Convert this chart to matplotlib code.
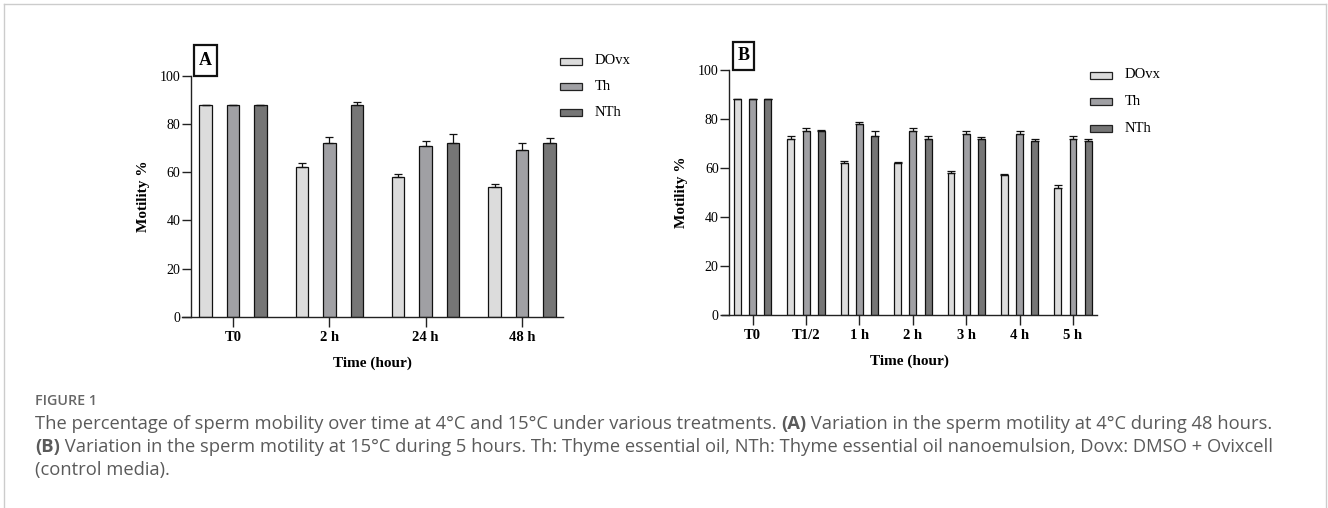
import matplotlib
matplotlib.use('Agg')
import matplotlib.pyplot as plt
from matplotlib.patches import Rectangle
from matplotlib.lines import Line2D
import numpy as np

### (1) Data ###
series = ['DOvx', 'Th', 'NTh']
colors = ['#dcdcdc', '#a0a0a4', '#767676']

times_a = ['T0', '2 h', '24 h', '48 h']
dovx_a = [88, 62, 58, 54]
th_a = [88, 72, 71, 69]
nth_a = [88, 88, 72, 72]
dovx_a_err = [0, 1.6, 1.2, 1.0]
th_a_err = [0, 2.7, 2.0, 3.0]
nth_a_err = [0, 1.0, 4.0, 2.0]

times_b = ['T0', 'T1/2', '1 h', '2 h', '3 h', '4 h', '5 h']
dovx_b = [88, 72, 62, 62, 58, 57, 52]
th_b = [88, 75, 78, 75, 74, 74, 72]
nth_b = [88, 75, 73, 72, 72, 71, 71]
dovx_b_err = [0, 1.0, 0.7, 0.5, 0.7, 0.7, 1.1]
th_b_err = [0, 1.3, 1.0, 1.5, 1.2, 1.2, 1.0]
nth_b_err = [0, 0.6, 2.0, 1.0, 0.6, 0.8, 0.9]

W, H = 1328, 508
serif = 'Liberation Serif'
plt.rcParams['font.family'] = serif

fig = plt.figure(figsize=(W/100, H/100), dpi=100)

def fx(px):
    return px / W

def fy(py):
    return 1 - py / H

def draw_panel(rect, times, vals, errs, xlo, xhi, yaxis_x, letter_box, leg_x, leg_rows):
    ax = fig.add_axes(rect)
    x = np.arange(len(times))
    off = 0.285
    w = 0.13
    for k in range(3):
        xs = x + (k - 1) * off
        ax.bar(xs, vals[k], width=w, color=colors[k], edgecolor='#111111', linewidth=0.9, zorder=2)
        e = np.array(errs[k])
        ax.errorbar(xs, vals[k], yerr=[np.zeros_like(e), e], fmt='none', ecolor='#111111',
                    elinewidth=0.9, capsize=3.2, capthick=0.9, zorder=3)
    ax.set_xlim(xlo, xhi)
    ax.set_ylim(0, 100)
    ax.set_xticks(x)
    ax.set_xticklabels(times, fontsize=10.5, fontweight='bold')
    ax.set_yticks(np.arange(0, 101, 20))
    ax.set_yticklabels([str(v) for v in range(0, 101, 20)], fontsize=10.5, fontweight='bold')
    ax.spines['top'].set_visible(False)
    ax.spines['right'].set_visible(False)
    ax.spines['left'].set_position(('data', yaxis_x))
    for s in ['left', 'bottom']:
        ax.spines[s].set_linewidth(1.0)
        ax.spines[s].set_color('#222222')
    ax.tick_params(axis='x', length=7, width=1.0, color='#222222', pad=3)
    ax.tick_params(axis='y', length=6.5, width=1.0, color='#222222', pad=1)
    ax.set_xlabel('Time (hour)', fontsize=11, fontweight='bold', labelpad=9)
    ax.set_ylabel('Motility %', fontsize=11, fontweight='bold', labelpad=7)
    # panel letter box
    bx0, by0, bx1, by1 = letter_box[1]
    fig.patches.append(Rectangle((fx(bx0), fy(by1)), fx(bx1) - fx(bx0), fy(by0) - fy(by1),
                                 transform=fig.transFigure, fill=False, edgecolor='#111111',
                                 linewidth=1.6))
    fig.text(fx((bx0 + bx1) / 2), fy((by0 + by1) / 2), letter_box[0], fontsize=13,
             fontweight='bold', ha='center', va='center')
    # legend
    for k, name in enumerate(series):
        yy = leg_rows[k]
        fig.patches.append(Rectangle((fx(leg_x), fy(yy + 3.5)), fx(22), 7 / H,
                                     transform=fig.transFigure, facecolor=colors[k],
                                     edgecolor='#222222', linewidth=0.9))
        fig.text(fx(leg_x + 35), fy(yy), name, fontsize=10.5, ha='left', va='center')
    return ax

rect_a = [fx(182), fy(316.7), fx(563) - fx(182), fy(75.7) - fy(316.7)]
draw_panel(rect_a, times_a, [dovx_a, th_a, nth_a], [dovx_a_err, th_a_err, nth_a_err],
           -0.529, 3.425, -0.436, ('A', (194, 45, 217, 76)), 560, [61, 86, 112])

rect_b = [fx(722), fy(315.3), fx(1097) - fx(722), fy(70) - fy(315.3)]
draw_panel(rect_b, times_b, [dovx_b, th_b, nth_b], [dovx_b_err, th_b_err, nth_b_err],
           -0.575, 6.45, -0.443, ('B', (733, 42, 754, 70)), 1090, [75, 101.5, 128])

# frame around figure
fc = '#cccccc'
fig.add_artist(Line2D([fx(4), fx(4)], [0, fy(4)], transform=fig.transFigure, color=fc, lw=1))
fig.add_artist(Line2D([fx(4), fx(1326)], [fy(4), fy(4)], transform=fig.transFigure, color=fc, lw=1))
fig.add_artist(Line2D([fx(1326), fx(1326)], [0, fy(4)], transform=fig.transFigure, color=fc, lw=1))

# caption
cap_font = 'Open Sans'
cap_color = '#5a5a5a'
fig.text(fx(35), fy(401), 'FIGURE 1', fontsize=10.3, fontweight='semibold', family=cap_font,
         color='#666666', va='center', ha='left')

fig.canvas.draw()
renderer = fig.canvas.get_renderer()

def draw_segments(x0, y0, segs):
    xpos = fx(x0)
    for txt, wt in segs:
        t = fig.text(xpos, fy(y0), txt, fontsize=13.2, fontweight=wt, family=cap_font,
                     color=cap_color, va='center', ha='left')
        bb = t.get_window_extent(renderer=renderer)
        xpos += bb.width / W

draw_segments(35, 424, [
    ('The percentage of sperm mobility over time at 4°C and 15°C under various treatments. ', 'normal'),
    ('(A)', 'bold'),
    (' Variation in the sperm motility at 4°C during 48 hours.', 'normal')])
draw_segments(35, 447, [
    ('(B)', 'bold'),
    (' Variation in the sperm motility at 15°C during 5 hours. Th: Thyme essential oil, NTh: Thyme essential oil nanoemulsion, Dovx: DMSO + Ovixcell', 'normal')])
draw_segments(35, 470, [('(control media).', 'normal')])

fig.savefig('out.png', dpi=100)
